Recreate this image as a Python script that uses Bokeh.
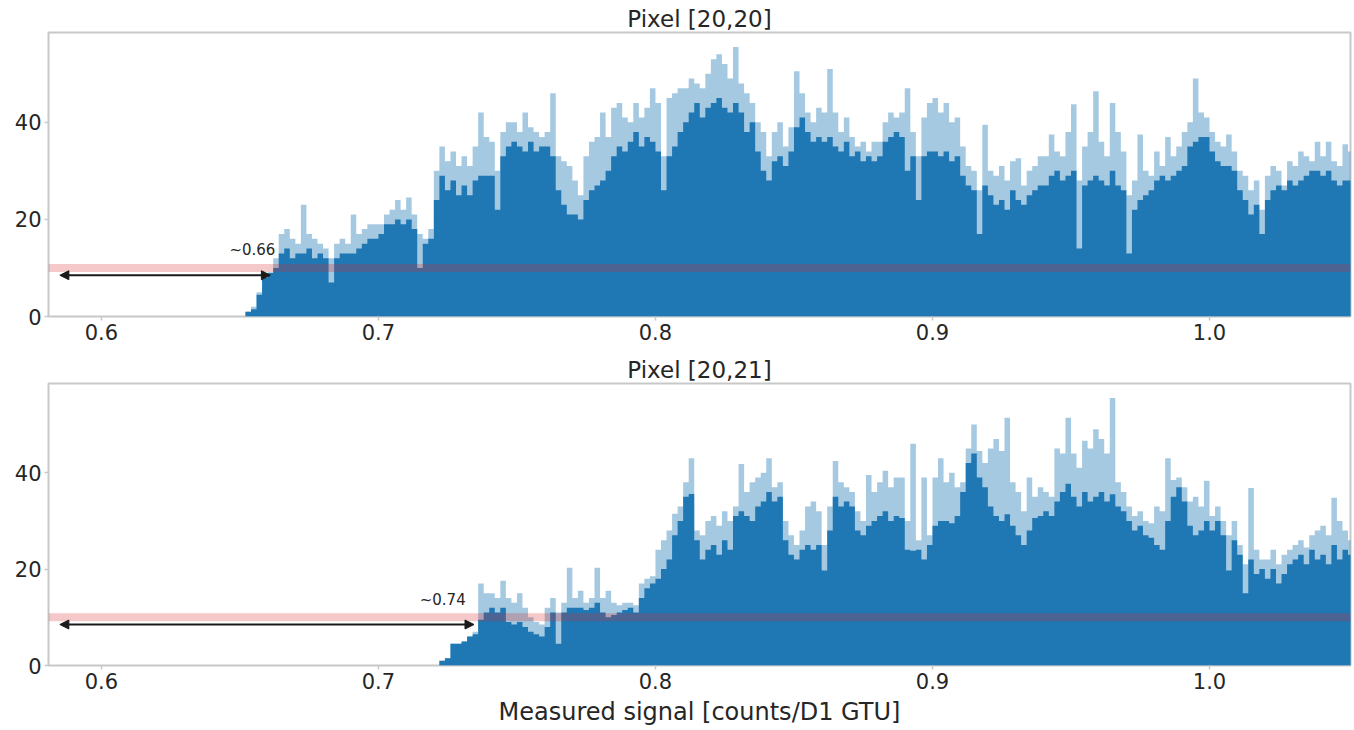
import numpy as np
from bokeh.plotting import figure
from bokeh.layouts import column
from bokeh.models import Span, Arrow, NormalHead, Label, Range1d, FixedTicker, NumeralTickFormatter
from bokeh.embed import file_html
from bokeh.resources import INLINE

# ---------------- data ----------------
BIN_W = 0.002
top_start = 0.650
bot_start = 0.720

# Pixel [20,20]: typical (dark) and spike (light) counts per 0.002 bin
top_dark = [
    0, 1, 1.5, 4.5, 8,
    9, 10, 13, 14, 12,
    13, 13, 14, 12, 13,
    12, 7, 12, 13, 13,
    13, 14, 15, 16, 16,
    17, 19, 19, 20, 19,
    20, 18, 10, 15, 16,
    24, 29, 26, 28, 25,
    27, 25, 28, 29, 29,
    29, 22, 33, 35, 36,
    35, 34, 36, 34, 35,
    35, 33, 26, 23, 21,
    21, 20, 24, 26, 27,
    28, 30, 33, 35, 34,
    36, 38, 35, 37, 36,
    34, 26, 33, 35, 38,
    40, 42, 44, 41, 43,
    44, 45, 43, 42, 44,
    42, 38, 40, 34, 30,
    28, 32, 33, 31, 34,
    39, 41, 38, 36, 37,
    36, 37, 35, 34, 36,
    33, 34, 32, 33, 32,
    33, 36, 37, 38, 37,
    30, 33, 24, 33, 34,
    34, 33, 34, 32, 33,
    29, 27, 26, 17, 27,
    25, 23, 24, 22, 26,
    24, 23, 25, 26, 27,
    27, 29, 30, 28, 29,
    30, 14, 27, 28, 29,
    28, 27, 30, 27, 26,
    13, 22, 24, 25, 26,
    28, 29, 28, 29, 30,
    31, 35, 36, 37, 37,
    34, 32, 31, 31, 30,
    26, 24, 21, 23, 17,
    24, 26, 27, 26, 28,
    27, 28, 29, 30, 30,
    29, 30, 28, 27, 28,
    28,
]
top_light = [
    0, 1, 2, 5, 8,
    9, 12, 17, 18, 16,
    15, 23, 17, 16, 15,
    14, 12, 15, 16, 15,
    21, 17, 18, 19, 19,
    19, 21, 22, 24, 22,
    24.5, 21, 17, 16, 18,
    30, 35, 32, 34, 31,
    33, 31, 35, 42, 37,
    36, 30, 38, 40, 40,
    38, 42, 39, 38, 37,
    38, 46, 33, 32, 31,
    28, 25, 33, 36, 37,
    42, 37, 43, 44, 41,
    40, 44, 41, 43, 47,
    44, 33, 45, 46, 47,
    47, 49, 48, 47, 50,
    53, 54, 52, 49, 55.5,
    48, 46, 44, 40, 38,
    33, 38, 40, 35, 39,
    50.5, 46, 42, 40, 43,
    42, 51, 42, 38, 41,
    37, 35, 36, 34, 36,
    36, 40, 42, 41, 42,
    47, 38, 33, 41, 44,
    45, 42, 44, 40, 41,
    35, 31, 30, 26, 39.5,
    30, 29, 31, 28, 32,
    32.6, 27, 30, 31, 33,
    33, 37.5, 34, 33, 38,
    43.7, 28, 35, 38, 46.4,
    36, 33, 44, 38, 34,
    25, 28, 37.5, 30, 29,
    34, 31, 37, 33, 35,
    38, 40, 49, 42, 41,
    38, 36, 35, 37.5, 34,
    30, 29, 26, 28, 22,
    29, 31, 30, 27, 32,
    31, 34, 33, 32, 36,
    33, 36, 32, 31, 35.5,
    34,
]

# Pixel [20,21]
bot_dark = [
    0, 1, 1.5, 4.5, 4.5,
    5, 6, 6.5, 9.5, 11,
    12, 11, 12, 9, 8.5,
    9, 8, 7, 6.5, 6,
    8, 11, 4.5, 11, 12,
    12, 12, 11.5, 12, 13,
    11, 10, 10.5, 11, 11.5,
    12, 11, 14, 16, 17,
    18, 20, 22, 27, 30,
    35, 35.6, 26, 22, 24,
    25, 23, 26, 24, 31,
    32, 31, 30, 33, 34,
    36, 34, 35, 26, 23,
    22, 24, 25, 24, 25,
    19.7, 28, 35, 33, 34,
    33, 28, 27, 29, 30,
    31, 32, 30, 31, 30.6,
    24, 23.8, 24, 22, 25,
    29, 30, 30, 29.5, 31,
    36, 42, 44, 39, 37,
    33, 31, 30, 31.4, 29,
    27, 25, 28, 30.6, 31,
    32, 31, 34, 36, 37.7,
    35, 33, 36, 34, 35,
    36, 34, 35.5, 33, 32,
    30, 28, 29, 27, 26.5,
    25, 24, 30, 35, 37,
    34, 29, 27, 28, 30,
    28, 30, 27, 19.7, 26,
    23, 15, 22, 19, 20,
    18, 20, 17, 19, 21,
    22, 23, 21, 24, 22,
    23, 21, 25, 22, 24,
    23,
]
bot_light = [
    0, 1, 1.5, 4.5, 4.5,
    5, 6, 7, 17, 15,
    15, 14, 17.6, 14, 13,
    15, 12, 10, 9, 8.5,
    12, 14, 11, 13, 20.3,
    14, 15.5, 13, 14, 20.3,
    14, 15.5, 13, 12.5, 13,
    13, 12.5, 17, 18, 18.5,
    24, 26, 28, 31.5, 33,
    38, 43, 28, 27, 30,
    31, 29, 32, 30, 33,
    41.8, 36, 38, 39, 40,
    43, 37, 38, 30, 27,
    25, 28, 33, 34, 32,
    25, 33, 42.4, 38, 37,
    36, 32, 30, 39.5, 36,
    38, 40.4, 37, 39, 39,
    30, 46, 26, 39, 27,
    39, 43, 38, 40, 37,
    38, 45, 50, 44.5, 42,
    45, 47, 44.5, 51.4, 38,
    36, 32, 39, 35, 37,
    36, 35, 45, 44, 51.4,
    44, 41, 46.6, 45, 49,
    47, 44, 55.5, 38, 36,
    33, 31, 32, 30, 29.5,
    33, 32, 43, 38.5, 39,
    37, 34, 35, 33, 38.3,
    31, 33, 30, 27, 30,
    25, 21, 36.8, 24, 22,
    22, 24, 21, 23, 24,
    25, 26, 24.5, 27, 28,
    29, 27, 34.8, 30, 28,
    26,
]

titles = ["Pixel [20,20]", "Pixel [20,21]"]
thresholds = [0.661, 0.7345]
threshold_labels = ["~0.66", "~0.74"]
label_x = [0.6545, 0.7232]
level = 10
arrow_y = 8.5
arrow_x0 = 0.585
x_ticks = [0.6, 0.7, 0.8, 0.9, 1.0]
y_ticks = [0, 20, 40]
xlabel = "Measured signal [counts/D1 GTU]"

FONT = "DejaVu Sans"
BLUE = "#1f77b4"
TXT = "#262626"


def make(title, start, dark, light, thr, lab, lab_x, height, top_b, bottom_b, with_xlabel):
    p = figure(width=1352, height=height, output_backend="svg", toolbar_location=None,
               x_range=Range1d(0.5809, 1.0509), y_range=Range1d(0, 58.5),
               min_border_left=48, min_border_right=2,
               min_border_top=top_b, min_border_bottom=bottom_b)
    edges = start + BIN_W * np.arange(len(dark) + 1)
    yl = list(light) + [light[-1]]
    yd = list(dark) + [dark[-1]]
    p.varea_step(x=edges, y1=0, y2=yl, step_mode="after", fill_color=BLUE, fill_alpha=0.4)
    p.varea_step(x=edges, y1=0, y2=yd, step_mode="after", fill_color=BLUE, fill_alpha=1.0)

    p.add_layout(Span(location=level, dimension="width", line_color="#d62728",
                      line_alpha=0.25, line_width=8))
    head = dict(size=9, fill_color="#1a1a1a", line_color="#1a1a1a")
    p.add_layout(Arrow(start=NormalHead(**head), end=NormalHead(**head),
                       x_start=arrow_x0, y_start=arrow_y, x_end=thr, y_end=arrow_y,
                       line_color="#1a1a1a", line_width=2))
    p.add_layout(Label(x=lab_x, y=13.6, text=lab, text_align="center", text_baseline="middle",
                       text_font=FONT, text_font_size="15px", text_color=TXT))

    p.title.text = title
    p.title.align = "center"
    p.title.text_font = FONT
    p.title.text_font_size = "23px"
    p.title.text_font_style = "normal"
    p.title.text_color = TXT
    p.title.standoff = 2

    p.xgrid.visible = False
    p.ygrid.visible = False
    p.outline_line_color = "#c8c8c8"
    p.outline_line_width = 2
    p.background_fill_color = "white"
    p.border_fill_color = "white"

    p.xaxis.ticker = FixedTicker(ticks=x_ticks)
    p.xaxis.formatter = NumeralTickFormatter(format="0.0")
    p.yaxis.ticker = FixedTicker(ticks=y_ticks)
    p.yaxis.formatter = NumeralTickFormatter(format="0")
    for ax in (p.xaxis[0], p.yaxis[0]):
        ax.axis_line_color = None
        ax.major_tick_line_color = "#c8c8c8"
        ax.major_tick_line_width = 1.5
        ax.major_tick_out = 4
        ax.major_tick_in = 0
        ax.minor_tick_line_color = None
        ax.major_label_text_font = FONT
        ax.major_label_text_font_size = "21px"
        ax.major_label_text_color = TXT
        ax.major_label_standoff = 3
    if with_xlabel:
        p.xaxis.axis_label = xlabel
        p.xaxis.axis_label_text_font = FONT
        p.xaxis.axis_label_text_font_size = "24px"
        p.xaxis.axis_label_text_font_style = "normal"
        p.xaxis.axis_label_text_color = TXT
        p.xaxis.axis_label_standoff = 6
    return p


p1 = make(titles[0], top_start, top_dark, top_light, thresholds[0], threshold_labels[0], label_x[0],
          350, 32, 34, False)
p2 = make(titles[1], bot_start, bot_dark, bot_light, thresholds[1], threshold_labels[1], label_x[1],
          378, 33, 63, True)

layout = column(p1, p2, spacing=0)
open("out.html", "w").write(file_html(layout, INLINE))
